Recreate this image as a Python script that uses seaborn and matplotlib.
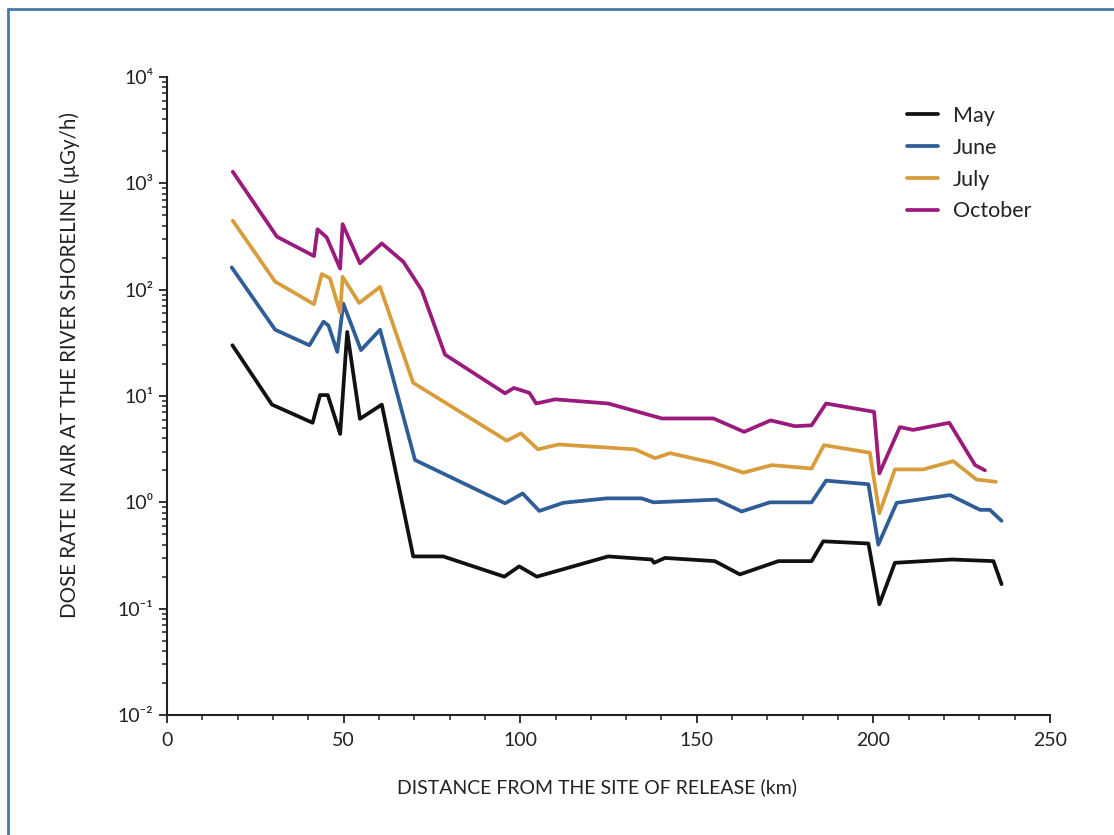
import pandas as pd
import seaborn as sns
import matplotlib.pyplot as plt
from matplotlib.lines import Line2D
from matplotlib.ticker import FixedLocator, FixedFormatter, MultipleLocator, LogLocator, NullFormatter

sns.set_style('ticks')
plt.rcParams['font.family'] = ['Lato', 'DejaVu Sans']

# distance from release site (km) and dose rate (uGy/h)
may_km = [18.5, 29.7, 41.2, 43.3, 45.5, 49.0, 51.0, 54.6, 60.8, 69.7, 78.2, 95.5, 99.7, 104.7,
          124.9, 137.2, 137.9, 141.0, 155.1, 162.2, 173.1, 182.5, 185.8, 198.6, 201.7, 206.1,
          222.2, 234.0, 236.3]
may_dose = [30, 8.3, 5.6, 10.2, 10.2, 4.4, 40, 6.1, 8.3, 0.31, 0.31, 0.2, 0.25, 0.2,
            0.31, 0.29, 0.27, 0.3, 0.28, 0.21, 0.28, 0.28, 0.43, 0.41, 0.11, 0.27,
            0.29, 0.28, 0.17]

june_km = [18.3, 30.6, 40.3, 44.3, 45.7, 48.2, 49.9, 54.9, 60.3, 70.2, 95.7, 100.7, 105.4,
           112.2, 124.5, 134.4, 137.7, 155.6, 162.7, 170.7, 182.5, 186.6, 198.6, 201.4,
           206.6, 221.7, 230.2, 233.0, 236.3]
june_dose = [162, 42, 30, 50, 46, 26, 74, 27, 42, 2.5, 0.98, 1.21, 0.83,
             0.99, 1.09, 1.09, 1.0, 1.06, 0.82, 1.0, 1.0, 1.6, 1.48, 0.40,
             0.99, 1.17, 0.85, 0.85, 0.67]

july_km = [18.6, 30.6, 41.6, 43.8, 46.1, 49.0, 49.7, 54.4, 60.3, 69.7, 96.2, 100.2, 105.0,
           110.8, 132.5, 138.2, 142.4, 154.7, 163.2, 171.2, 182.5, 186.0, 199.0, 201.7,
           206.1, 214.1, 222.6, 229.2, 234.7]
july_dose = [445, 119, 73, 140, 128, 61, 132, 75, 106, 13.3, 3.8, 4.45, 3.15,
             3.5, 3.15, 2.6, 2.9, 2.35, 1.9, 2.24, 2.08, 3.45, 2.93, 0.79,
             2.04, 2.04, 2.44, 1.64, 1.56]

oct_km = [18.6, 31.1, 41.6, 42.6, 45.2, 49.0, 49.7, 54.6, 60.8, 66.9, 72.1, 78.7, 95.7, 98.2,
          102.6, 104.5, 109.9, 124.9, 140.1, 154.7, 163.4, 170.9, 177.8, 182.5, 186.6,
          200.2, 201.7, 207.5, 211.3, 221.5, 228.8, 231.6]
oct_dose = [1285, 315, 207, 370, 310, 158, 414, 177, 272, 183, 99, 24.5, 10.6, 11.9,
            10.7, 8.5, 9.3, 8.5, 6.15, 6.15, 4.6, 5.9, 5.2, 5.3, 8.5,
            7.1, 1.87, 5.1, 4.8, 5.6, 2.24, 2.0]

months = ['May', 'June', 'July', 'October']
colors = {'May': '#111111', 'June': '#2e5d97', 'July': '#d99c3c', 'October': '#9a1b7c'}

frames = []
for m, xs, ys in zip(months, [may_km, june_km, july_km, oct_km],
                     [may_dose, june_dose, july_dose, oct_dose]):
    frames.append(pd.DataFrame({'km': xs, 'dose': ys, 'month': m}))
df = pd.concat(frames, ignore_index=True)

fig = plt.figure(figsize=(11.14, 8.35), dpi=100)
ax = fig.add_axes([0.15, 0.1437, 0.7925, 0.7641])

sns.lineplot(data=df, x='km', y='dose', hue='month', hue_order=months, palette=colors,
             estimator=None, sort=False, lw=2.7, ax=ax)

ax.set_yscale('log')
ax.set_xlim(0, 250)
ax.set_ylim(1e-2, 1e4)

ax.xaxis.set_major_locator(FixedLocator([0, 50, 100, 150, 200, 250]))
ax.xaxis.set_minor_locator(MultipleLocator(10))
ax.yaxis.set_major_locator(FixedLocator([1e-2, 1e-1, 1, 10, 100, 1000, 1e4]))
ax.yaxis.set_major_formatter(FixedFormatter(['10⁻²', '10⁻¹', '10⁰', '10¹', '10²', '10³', '10⁴']))
ax.yaxis.set_minor_locator(LogLocator(base=10, subs=range(2, 10), numticks=20))
ax.yaxis.set_minor_formatter(NullFormatter())

ax.tick_params(which='major', length=6, width=1.3, labelsize=14, color='#222222',
               labelcolor='#222222')
ax.tick_params(which='minor', length=3.5, width=1.1, color='#222222')
ax.tick_params(axis='x', which='major', pad=6)
ax.tick_params(axis='y', which='major', pad=4)

sns.despine(ax=ax)
for s in ['left', 'bottom']:
    ax.spines[s].set_linewidth(1.5)
    ax.spines[s].set_color('#222222')

ax.set_xlabel('DISTANCE FROM THE SITE OF RELEASE (km)', fontsize=14, color='#222222')
ax.set_ylabel('DOSE RATE IN AIR AT THE RIVER SHORELINE (µGy/h)', fontsize=14.8, color='#222222')
ax.xaxis.set_label_coords(0.487, -0.099)
ax.yaxis.set_label_coords(-0.099, 0.549)

leg = ax.legend(frameon=False, loc='upper left', bbox_to_anchor=(0.816, 0.985),
                fontsize=15.5, handlelength=1.45, handletextpad=0.7, labelspacing=0.55)
for h in leg.get_lines():
    h.set_linewidth(2.7)
for t in leg.get_texts():
    t.set_color('#222222')

# blue frame round the picture
fig.add_artist(Line2D([8 / 1114, 1], [1 - 9 / 835, 1 - 9 / 835], transform=fig.transFigure,
                      color='#4a78a6', lw=2))
fig.add_artist(Line2D([8 / 1114, 8 / 1114], [0, 1 - 9 / 835], transform=fig.transFigure,
                      color='#4a78a6', lw=2))

fig.savefig('out.png', dpi=100)
